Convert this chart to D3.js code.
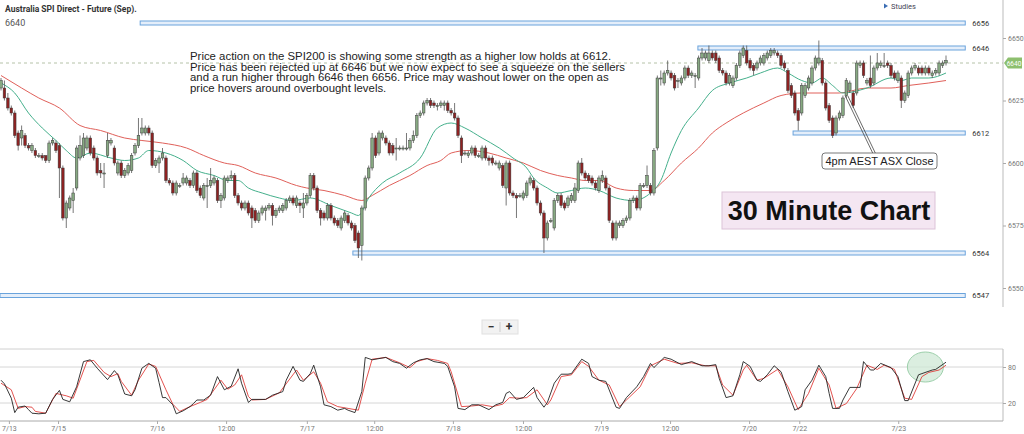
<!DOCTYPE html>
<html>
<head>
<meta charset="utf-8">
<script src="https://cdn.jsdelivr.net/npm/d3@7/dist/d3.min.js"></script>
<style>
  body { margin: 0; background: #fff; }
  svg { display: block; font-family: Roboto, "Liberation Sans", Arial, sans-serif; }
</style>
</head>
<body>
<div id="chart"></div>
<script>
// 30 minute bars, Australia SPI 200 futures
const opens = [
  6630,6630,6626,6622,6620,6612,6610,6611,6607,6605, 6605,6603,6603,6603,6601,6608,6608,6607,6598,6578,
  6582,6585,6590,6602,6603,6606,6610,6606,6602,6597, 6596,6603,6608,6606,6596,6600,6595,6596,6597,6604,
  6607,6612,6612,6614,6612,6599,6600,6602,6602,6593, 6592,6588,6591,6592,6592,6593,6591,6596,6590,6586,
  6591,6591,6592,6593,6585,6586,6593,6594,6595,6587, 6584,6582,6584,6582,6581,6577,6580,6581,6582,6583,
  6579,6581,6581,6582,6585,6586,6583,6584,6582,6584, 6587,6595,6590,6581,6580,6578,6583,6578,6577,6574,
  6577,6579,6576,6575,6572,6567,6582,6594,6598,6610, 6604,6610,6610,6608,6607,6606,6606,6606,6606,6606,
  6609,6611,6619,6620,6624,6625,6624,6623,6623,6623, 6624,6621,6620,6618,6610,6604,6603,6604,6606,6603,
  6602,6606,6602,6602,6600,6598,6599,6590,6600,6588, 6587,6587,6586,6587,6592,6593,6590,6584,6580,6570,
  6577,6574,6585,6587,6584,6583,6585,6585,6589,6600, 6596,6595,6594,6592,6589,6593,6594,6590,6576,6570,
  6575,6575,6577,6578,6585,6586,6582,6591,6591,6591, 6588,6606,6634,6632,6636,6636,6635,6633,6632,6634,
  6638,6635,6635,6634,6642,6642,6641,6644,6644,6642, 6637,6636,6632,6631,6634,6639,6643,6645,6641,6639,
  6638,6640,6640,6642,6643,6644,6644,6643,6640,6637, 6631,6628,6621,6620,6627,6630,6632,6638,6640,6641,
  6632,6623,6618,6612,6618,6619,6627,6629,6628,6628, 6639,6640,6632,6634,6632,6638,6639,6639,6640,6639,
  6636,6633,6634,6625,6627,6636,6638,6638,6638,6636, 6638,6635,6636,6636,6639,6640
];
const highs = [
  6634,6633,6628,6623,6621,6613,6615,6612,6608,6608, 6606,6604,6604,6603,6609,6610,6609,6608,6599,6585,
  6587,6590,6607,6611,6612,6611,6611,6607,6603,6600, 6600,6612,6610,6607,6601,6601,6598,6600,6604,6608,
  6618,6618,6615,6615,6613,6602,6603,6606,6603,6594, 6593,6593,6592,6596,6595,6594,6597,6597,6591,6592,
  6594,6598,6595,6594,6588,6595,6595,6597,6596,6588, 6585,6585,6585,6583,6582,6581,6583,6583,6584,6584,
  6582,6583,6584,6586,6587,6587,6587,6585,6588,6588, 6596,6596,6591,6582,6581,6584,6584,6579,6578,6579,
  6581,6580,6577,6576,6573,6583,6595,6599,6612,6611, 6613,6613,6611,6609,6608,6610,6607,6607,6612,6610,
  6613,6620,6621,6625,6626,6626,6625,6624,6625,6625, 6625,6622,6624,6619,6611,6605,6605,6607,6607,6604,
  6607,6607,6603,6603,6601,6601,6600,6601,6601,6589, 6588,6588,6589,6593,6595,6594,6591,6585,6581,6577,
  6578,6586,6588,6588,6585,6587,6588,6592,6601,6602, 6597,6596,6595,6593,6595,6597,6595,6591,6577,6577,
  6577,6578,6579,6586,6587,6587,6592,6592,6599,6592, 6606,6635,6637,6637,6641,6637,6636,6634,6635,6639,
  6639,6637,6636,6643,6646,6645,6647,6645,6645,6643, 6638,6637,6636,6635,6640,6645,6647,6647,6642,6640,
  6641,6643,6644,6645,6646,6646,6645,6644,6641,6638, 6632,6629,6622,6632,6632,6635,6639,6643,6649,6642,
  6633,6624,6619,6619,6621,6627,6634,6633,6629,6641, 6641,6641,6634,6643,6639,6644,6641,6644,6641,6640,
  6637,6637,6635,6629,6637,6639,6640,6639,6639,6639, 6639,6637,6638,6641,6641,6643
];
const lows = [
  6629,6625,6621,6619,6610,6605,6607,6606,6605,6604, 6602,6602,6601,6600,6600,6607,6604,6586,6577,6574,
  6581,6580,6589,6601,6602,6605,6603,6601,6595,6594, 6590,6602,6607,6599,6595,6594,6594,6595,6596,6603,
  6606,6611,6611,6611,6598,6598,6596,6601,6592,6591, 6587,6587,6590,6591,6591,6590,6590,6588,6586,6585,
  6582,6590,6591,6584,6582,6585,6592,6593,6586,6583, 6581,6581,6579,6574,6576,6576,6579,6577,6581,6575,
  6578,6580,6580,6581,6584,6583,6582,6580,6578,6583, 6586,6589,6580,6575,6577,6577,6577,6575,6574,6573,
  6576,6575,6573,6568,6562,6561,6581,6593,6597,6602, 6603,6609,6607,6603,6603,6601,6605,6605,6605,6605,
  6608,6610,6618,6619,6623,6622,6622,6621,6622,6621, 6620,6619,6617,6610,6600,6603,6602,6603,6602,6602,
  6601,6601,6599,6599,6599,6597,6590,6583,6587,6586, 6578,6586,6585,6586,6591,6589,6583,6579,6564,6569,
  6576,6573,6584,6582,6581,6582,6584,6584,6588,6595, 6593,6592,6591,6589,6588,6592,6589,6576,6569,6569,
  6574,6574,6576,6577,6584,6581,6581,6590,6590,6587, 6587,6605,6631,6631,6635,6633,6629,6630,6631,6633,
  6634,6634,6630,6633,6641,6641,6640,6641,6640,6636, 6635,6631,6631,6630,6633,6638,6642,6639,6637,6635,
  6637,6639,6639,6641,6642,6643,6642,6638,6637,6628, 6626,6619,6613,6619,6626,6629,6631,6637,6639,6631,
  6621,6616,6610,6611,6617,6618,6626,6628,6622,6627, 6638,6634,6631,6630,6631,6637,6638,6638,6638,6634,
  6633,6632,6622,6624,6626,6635,6637,6635,6635,6635, 6635,6634,6635,6635,6638,6639
];
const closes = [
  6633,6626,6622,6620,6611,6607,6613,6607,6606,6607, 6603,6603,6602,6601,6608,6609,6605,6598,6578,6584,
  6586,6588,6606,6607,6610,6610,6604,6602,6596,6596, 6596,6609,6609,6600,6600,6595,6597,6599,6603,6607,
  6611,6614,6614,6612,6599,6601,6602,6604,6593,6592, 6588,6592,6591,6594,6594,6591,6596,6589,6587,6591,
  6591,6593,6594,6585,6587,6594,6594,6595,6587,6584, 6582,6584,6580,6578,6577,6580,6582,6582,6583,6579,
  6581,6582,6583,6585,6586,6584,6586,6583,6584,6587, 6595,6590,6581,6578,6578,6583,6578,6576,6575,6578,
  6580,6576,6574,6569,6566,6582,6594,6598,6610,6603, 6612,6612,6608,6604,6604,6606,6606,6606,6606,6609,
  6611,6619,6620,6624,6625,6623,6623,6623,6624,6624, 6621,6620,6618,6611,6603,6604,6604,6606,6603,6603,
  6606,6602,6601,6600,6600,6600,6591,6600,6588,6587, 6586,6587,6588,6592,6594,6590,6584,6580,6570,6576,
  6577,6585,6587,6583,6582,6586,6587,6590,6600,6596, 6594,6593,6592,6590,6594,6595,6590,6577,6570,6576,
  6576,6577,6578,6585,6586,6582,6591,6591,6595,6588, 6605,6634,6634,6636,6637,6634,6630,6633,6634,6638,
  6635,6636,6635,6642,6644,6644,6644,6642,6641,6637, 6636,6632,6635,6634,6639,6644,6646,6640,6638,6637,
  6640,6642,6643,6644,6645,6645,6643,6639,6638,6629, 6627,6620,6617,6631,6631,6634,6638,6642,6642,6632,
  6622,6617,6611,6618,6620,6626,6633,6632,6623,6640, 6640,6635,6633,6631,6638,6640,6640,6639,6639,6635,
  6634,6636,6625,6628,6636,6638,6639,6636,6636,6638, 6636,6636,6637,6640,6640,6641
];

// moving averages as [bar index, price]
const fastMA = [
  [0,6632],[4,6628],[8,6620],[12,6614],[16,6609],[19,6605],[22,6602],[26,6604],[32,6602],[36,6601],
  [40,6602],[43,6605],[48,6604],[53,6601],[57,6597],[62,6595],[66,6593],[69,6593],[72,6590],[76,6588],
  [81,6586],[85,6585],[90,6586],[96,6583],[102,6580],[104,6579],[107,6586],[111,6592],[116,6596],[122,6602],
  [127,6614],[131,6616],[135,6614],[140,6610],[145,6606],[149,6602],[153,6598],[155,6594],[159,6590],[162,6588],
  [166,6589],[170,6590],[174,6589],[179,6586],[184,6585],[189,6588],[192,6593],[195,6604],[198,6613],[203,6622],
  [207,6629],[212,6632],[217,6634],[221,6636],[226,6638],[229,6636],[233,6633],[236,6632],[239,6634],[242,6631],
  [245,6628],[252,6630],[259,6634],[262,6633],[265,6634],[270,6634],[275,6636]
];
const slowMA = [
  [0,6635],[6,6630],[11,6626],[17,6622],[23,6615],[29,6613],[36,6610],[41,6609],[47,6608],[54,6606],
  [59,6603],[65,6600],[69,6599],[74,6596],[80,6594],[86,6591],[89,6590],[94,6589],[100,6587],[105,6585],
  [108,6587],[113,6591],[119,6595],[124,6599],[128,6601],[131,6604],[136,6605],[142,6604],[147,6602],[152,6600],
  [157,6597],[162,6595],[166,6594],[170,6593],[174,6593],[179,6590],[184,6589],[189,6589],[193,6593],[198,6600],
  [203,6606],[207,6612],[211,6616],[216,6620],[222,6624],[227,6627],[233,6628],[239,6628],[244,6628],[252,6630],
  [259,6630],[264,6631],[270,6632],[275,6633]
];

// stochastic %K (black) and %D (red) as [bar index, value]
const stochK = [
  [0,58],[1,52],[3,28],[4,4],[5,13],[7,15],[8,9],[9,3],[11,2],[13,3],[15,26],[17,41],[18,26],[20,22],[22,47],
  [24,89],[26,92],[28,78],[31,59],[33,74],[34,67],[36,35],[38,32],[39,42],[41,78],[43,86],[45,78],[46,54],
  [47,29],[48,29],[50,17],[51,2],[53,7],[55,14],[56,19],[57,25],[59,25],[61,33],[63,64],[65,42],[67,48],
  [69,77],[70,53],[72,21],[73,26],[77,26],[79,33],[82,39],[83,58],[85,81],[87,58],[88,56],[90,69],[91,83],
  [93,47],[94,17],[96,14],[98,8],[100,11],[101,8],[103,4],[105,39],[106,96],[108,92],[112,96],[114,89],
  [116,86],[118,78],[120,87],[122,92],[124,94],[126,89],[129,86],[130,81],[132,47],[133,11],[135,9],[137,17],
  [139,17],[142,9],[144,17],[146,21],[147,36],[148,39],[150,26],[152,29],[155,46],[156,29],[158,13],[159,21],
  [161,53],[163,68],[165,68],[166,69],[169,93],[171,86],[172,64],[174,58],[176,56],[179,13],[180,11],[182,29],
  [185,47],[187,64],[189,86],[190,79],[193,96],[195,93],[198,84],[201,89],[204,82],[206,82],[208,84],[209,61],
  [211,29],[213,32],[215,67],[216,89],[218,81],[220,58],[221,56],[223,67],[225,82],[227,72],[229,39],[231,8],
  [233,14],[234,42],[236,58],[238,83],[240,64],[241,36],[242,11],[244,11],[245,25],[247,46],[250,46],[251,89],
  [253,75],[254,75],[256,86],[259,79],[261,64],[263,24],[264,24],[267,67],[268,69],[271,75],[272,76],[275,88]
];
const stochD = [
  [0,53],[3,42],[5,11],[7,14],[9,13],[10,6],[13,3],[16,36],[19,32],[21,28],[25,89],[27,91],[30,71],[32,64],
  [34,69],[35,56],[38,33],[40,58],[43,85],[45,81],[48,42],[50,18],[52,6],[55,14],[58,21],[60,26],[64,58],
  [66,43],[68,50],[70,67],[72,31],[73,25],[77,26],[81,37],[86,75],[88,58],[91,72],[93,53],[95,22],[98,14],
  [101,11],[104,8],[106,53],[108,93],[112,96],[116,87],[119,79],[121,89],[124,94],[127,91],[130,86],[131,72],
  [134,14],[137,15],[140,17],[143,14],[146,18],[148,29],[151,28],[153,29],[156,42],[159,17],[160,25],[163,64],
  [166,67],[169,89],[171,81],[174,58],[177,50],[180,14],[182,25],[186,47],[189,82],[193,93],[197,86],[201,87],
  [205,82],[208,82],[210,50],[213,33],[216,75],[217,83],[220,58],[222,61],[226,76],[229,47],[232,9],[235,36],
  [238,78],[241,50],[243,11],[246,19],[249,44],[252,83],[255,76],[257,83],[260,76],[263,28],[265,26],[268,64],
  [270,71],[273,75],[275,83]
];

const dateTicks  = [2.3, 16.6, 45.4, 65.5, 89, 108.6, 131.5, 151.9, 174.6, 194.7, 217.7, 232.3, 261.1];
const dateLabels = ["7/13","7/15","7/16","12:00","7/17","12:00","7/18","12:00","7/19","12:00","7/20","7/22","7/23"];
const priceTicks = [6550, 6575, 6600, 6625, 6650];
const stochTicks = [20, 80];

// drawn support / resistance levels and the bar where each one starts
const levels      = [6656, 6646, 6612, 6564, 6547];
const levelStarts = [40.5, 202.8, 230.5, 102.4, -0.5];
const lastPrice = 6640;

const noteLines = [
  "Price action on the SPI200 is showing some strength as a higher low holds at 6612.",
  "Price has been rejected up at 6646 but we now expect to see a squeeze on the sellers",
  "and a run higher through 6646 then 6656. Price may washout lower on the open as",
  "price hovers around overbought levels."
];
const closeNote = { text: "4pm AEST ASX Close", bar: 246, price: 6627 };

class SpiChart {
  constructor({ parentElement }) {
    this.parentElement = parentElement;
    this.width = 1024;
    this.height = 434;
    this.axisX = 1003;
    this.initChart();
  }

  initChart() {
    let vis = this;
    vis.svg = d3.select(vis.parentElement)
      .append("svg")
      .attr("width", vis.width)
      .attr("height", vis.height);

    vis.x = d3.scaleLinear().domain([0, closes.length - 1]).range([1, 946]);
    vis.y = d3.scaleLinear().domain([6550, 6650]).range([288, 38]);
    vis.ys = d3.scaleLinear().domain([-10, 110]).range([421, 349]);

    vis.bars = closes.map((c, i) => ({ i: i, o: opens[i], h: highs[i], l: lows[i], c: c }));

    vis.drawHeader();
    vis.drawLevels();
    vis.drawPrice();
    vis.drawNotes();
    vis.drawStoch();
    vis.drawAxes();
  }

  drawHeader() {
    let vis = this;
    vis.svg.append("text")
      .attr("x", 5).attr("y", 12)
      .style("font-size", "8.5px").style("font-weight", "bold").style("fill", "#333")
      .text("Australia SPI Direct - Future (Sep).");
    vis.svg.append("text")
      .attr("x", 5).attr("y", 26)
      .style("font-size", "9px").style("fill", "#555")
      .text(lastPrice);

    // studies link
    vis.svg.append("path")
      .attr("d", "M884,3.5 L888,6 L884,8.5 Z")
      .attr("fill", "#3b6db3");
    vis.svg.append("text")
      .attr("x", 891).attr("y", 8.5)
      .style("font-size", "7.5px").style("fill", "#445")
      .text("Studies");
  }

  drawLevels() {
    let vis = this;
    const endBar = 280.6;
    levels.forEach((lv, k) => {
      const x0 = Math.max(0, vis.x(levelStarts[k]));
      vis.svg.append("rect")
        .attr("x", x0)
        .attr("y", vis.y(lv) - 2)
        .attr("width", vis.x(endBar) - x0)
        .attr("height", 4)
        .attr("fill", "#e4eefa")
        .attr("stroke", "#6aa3dc")
        .attr("stroke-width", 1);
      vis.svg.append("text")
        .attr("x", vis.x(endBar) + 7)
        .attr("y", vis.y(lv) + 2.5)
        .style("font-size", "7.5px").style("fill", "#333")
        .text(lv);
    });

    // last price dashed line
    vis.svg.append("line")
      .attr("x1", 0).attr("x2", vis.axisX)
      .attr("y1", vis.y(lastPrice)).attr("y2", vis.y(lastPrice))
      .attr("stroke", "#b5c2a8")
      .attr("stroke-dasharray", "3,3");
  }

  drawPrice() {
    let vis = this;
    const line = d3.line().x(d => vis.x(d[0])).y(d => vis.y(d[1])).curve(d3.curveMonotoneX);

    vis.svg.append("path")
      .datum(slowMA)
      .attr("d", line)
      .attr("fill", "none")
      .attr("stroke", "#e0605a")
      .attr("stroke-width", 1);

    vis.svg.append("path")
      .datum(fastMA)
      .attr("d", line)
      .attr("fill", "none")
      .attr("stroke", "#45b08c")
      .attr("stroke-width", 1);

    const bw = 2.6;
    const g = vis.svg.append("g").attr("class", "candles");

    g.selectAll(".wick")
      .data(vis.bars)
      .join("line")
      .attr("class", "wick")
      .attr("x1", d => vis.x(d.i)).attr("x2", d => vis.x(d.i))
      .attr("y1", d => vis.y(d.h)).attr("y2", d => vis.y(d.l))
      .attr("stroke", "#555")
      .attr("stroke-width", 0.8);

    g.selectAll(".body")
      .data(vis.bars)
      .join("rect")
      .attr("class", "body")
      .attr("x", d => vis.x(d.i) - bw / 2)
      .attr("y", d => vis.y(Math.max(d.o, d.c)))
      .attr("width", bw)
      .attr("height", d => Math.max(1, Math.abs(vis.y(d.o) - vis.y(d.c))))
      .attr("fill", d => d.c >= d.o ? "#87a982" : "#8e2222")
      .attr("stroke", "#3a3a3a")
      .attr("stroke-width", 0.5);

    // price tag on the axis
    const ty = vis.y(lastPrice);
    vis.svg.append("path")
      .attr("d", `M${vis.axisX + 1},${ty} L${vis.axisX + 5},${ty - 5.5} L1022,${ty - 5.5} L1022,${ty + 5.5} L${vis.axisX + 5},${ty + 5.5} Z`)
      .attr("fill", "#8dbf6e");
    vis.svg.append("text")
      .attr("x", 1014).attr("y", ty + 2.5)
      .attr("text-anchor", "middle")
      .style("font-size", "6.5px").style("fill", "#fff")
      .text(lastPrice);
  }

  drawNotes() {
    let vis = this;
    const t = vis.svg.append("text")
      .attr("x", 190).attr("y", 60)
      .style("font-family", "'Liberation Sans', Arial, sans-serif")
      .style("font-size", "11.4px").style("fill", "#222");
    noteLines.forEach((s, k) => {
      t.append("tspan").attr("x", 190).attr("dy", k === 0 ? 0 : 10.6).text(s);
    });

    // callout for the ASX close
    const ax = vis.x(closeNote.bar), ay = vis.y(closeNote.price);
    const bx = 822, by = 153, bw = 115, bh = 16;
    [-1.3, 1.3].forEach(off => {
      vis.svg.append("line")
        .attr("x1", ax + off).attr("y1", ay)
        .attr("x2", bx + 52 + off).attr("y2", by)
        .attr("stroke", "#444").attr("stroke-width", 0.8);
    });
    vis.svg.append("rect")
      .attr("x", bx).attr("y", by).attr("width", bw).attr("height", bh)
      .attr("rx", 3)
      .attr("fill", "#fff").attr("stroke", "#555").attr("stroke-width", 0.8);
    vis.svg.append("text")
      .attr("x", bx + bw / 2).attr("y", by + 12)
      .attr("text-anchor", "middle")
      .style("font-family", "'Liberation Sans', Arial, sans-serif")
      .style("font-size", "11px").style("fill", "#222")
      .text(closeNote.text);

    // chart title badge
    vis.svg.append("rect")
      .attr("x", 722).attr("y", 192).attr("width", 213).attr("height", 37)
      .attr("fill", "#f4e6f2").attr("stroke", "#dcc3d8").attr("stroke-width", 1);
    vis.svg.append("text")
      .attr("x", 829).attr("y", 220)
      .attr("text-anchor", "middle")
      .style("font-family", "'Liberation Sans', Arial, sans-serif")
      .style("font-size", "27px").style("font-weight", "bold").style("fill", "#111")
      .text("30 Minute Chart");

    // zoom buttons
    const zb = vis.svg.append("g").attr("transform", "translate(482,320)");
    zb.append("rect").attr("width", 36).attr("height", 14).attr("fill", "#f2f2f2").attr("stroke", "#e0e0e0");
    zb.append("line").attr("x1", 18).attr("x2", 18).attr("y1", 2).attr("y2", 12).attr("stroke", "#ccc");
    zb.append("text").attr("x", 9).attr("y", 11).attr("text-anchor", "middle")
      .style("font-size", "12px").style("font-weight", "bold").style("fill", "#333").text("\u2212");
    zb.append("text").attr("x", 27).attr("y", 11).attr("text-anchor", "middle")
      .style("font-size", "12px").style("font-weight", "bold").style("fill", "#333").text("+");
  }

  drawStoch() {
    let vis = this;
    vis.svg.append("line")
      .attr("x1", 0).attr("x2", vis.axisX)
      .attr("y1", vis.ys(110)).attr("y2", vis.ys(110))
      .attr("stroke", "#d0d0d0");
    stochTicks.forEach(v => {
      vis.svg.append("line")
        .attr("x1", 0).attr("x2", vis.axisX)
        .attr("y1", vis.ys(v)).attr("y2", vis.ys(v))
        .attr("stroke", "#d6d6d6");
    });

    // highlight of the latest reading
    vis.svg.append("ellipse")
      .attr("cx", vis.x(269)).attr("cy", vis.ys(80))
      .attr("rx", 18).attr("ry", 15)
      .attr("fill", "#cfe8d6").attr("fill-opacity", 0.75)
      .attr("stroke", "#9ccfaa");

    const line = d3.line().x(d => vis.x(d[0])).y(d => vis.ys(d[1]));
    vis.svg.append("path")
      .datum(stochD)
      .attr("d", line)
      .attr("fill", "none")
      .attr("stroke", "#e0403c")
      .attr("stroke-width", 0.9);
    vis.svg.append("path")
      .datum(stochK)
      .attr("d", line)
      .attr("fill", "none")
      .attr("stroke", "#222")
      .attr("stroke-width", 0.9);
  }

  drawAxes() {
    let vis = this;

    // price axis
    vis.svg.append("line")
      .attr("x1", vis.axisX).attr("x2", vis.axisX)
      .attr("y1", 0).attr("y2", 307)
      .attr("stroke", "#bbb");
    const pa = vis.svg.append("g")
      .attr("transform", `translate(${vis.axisX},0)`)
      .call(d3.axisRight(vis.y).tickValues(priceTicks).tickFormat(d3.format("d")).tickSize(3).tickPadding(2));
    pa.select(".domain").remove();

    // stochastic axis
    vis.svg.append("line")
      .attr("x1", vis.axisX).attr("x2", vis.axisX)
      .attr("y1", vis.ys(110)).attr("y2", vis.ys(-10))
      .attr("stroke", "#bbb");
    const sa = vis.svg.append("g")
      .attr("transform", `translate(${vis.axisX},0)`)
      .call(d3.axisRight(vis.ys).tickValues(stochTicks).tickFormat(d3.format("d")).tickSize(3).tickPadding(2));
    sa.select(".domain").remove();

    // time axis
    vis.svg.append("line")
      .attr("x1", 0).attr("x2", vis.axisX)
      .attr("y1", 421).attr("y2", 421)
      .attr("stroke", "#aaa");
    const xa = vis.svg.append("g")
      .attr("transform", "translate(0,421)")
      .call(d3.axisBottom(vis.x).tickValues(dateTicks).tickFormat((d, i) => dateLabels[i]).tickSize(3).tickPadding(2));
    xa.select(".domain").remove();

    vis.svg.selectAll(".tick line").attr("stroke", "#aaa");
    vis.svg.selectAll(".tick text")
      .style("font-size", "7px")
      .style("fill", "#777")
      .style("font-family", "Roboto, sans-serif");
  }
}

new SpiChart({ parentElement: "#chart" });
</script>
</body>
</html>
